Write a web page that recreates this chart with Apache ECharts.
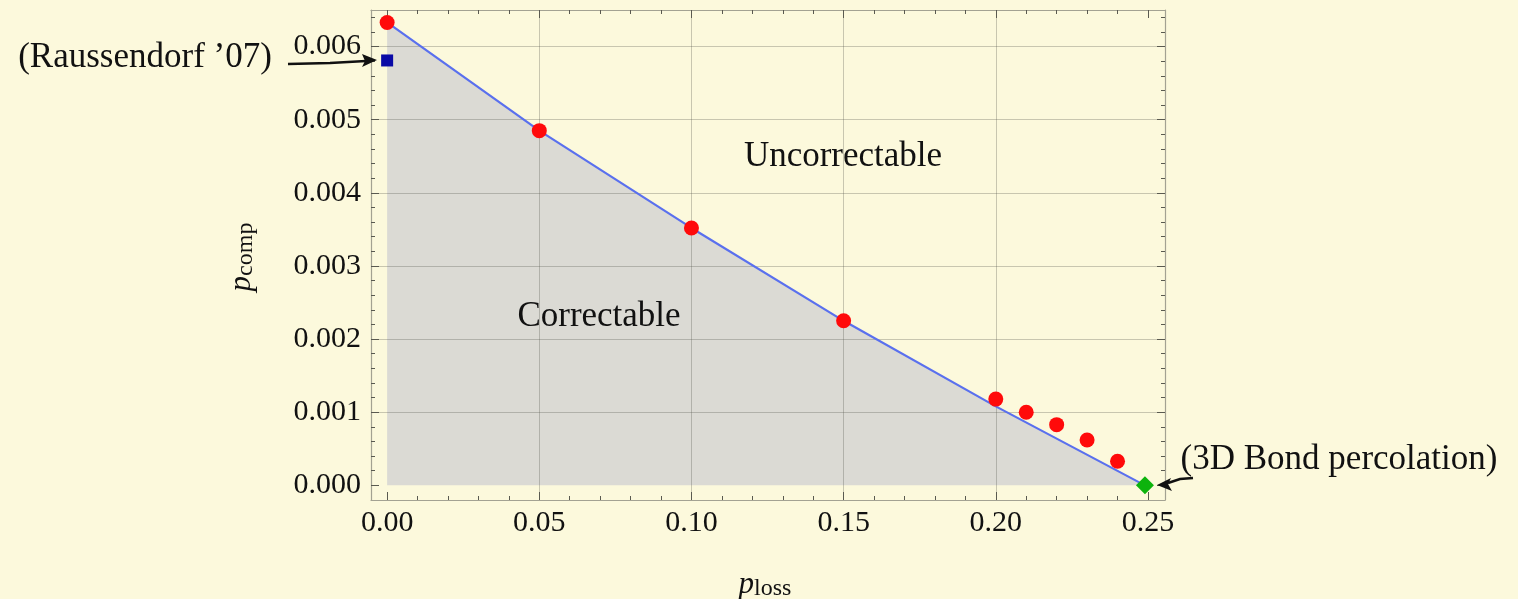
<!DOCTYPE html>
<html>
<head>
<meta charset="utf-8">
<script src="https://cdn.jsdelivr.net/npm/echarts@6/dist/echarts.min.js"></script>
<style>
html,body{margin:0;padding:0;background:#fcf9dc;}
#c{width:1518px;height:599px;}
</style>
</head>
<body>
<div id="c"></div>
<script>
// ---- data ----
const simPoints = [[0,0.00633],[0.05,0.00485],[0.10,0.00352],[0.15,0.00225],[0.20,0.00118],[0.21,0.00100],[0.22,0.00083],[0.23,0.00062],[0.24,0.00033]];
const boundary = [[0,0.00633],[0.05,0.00485],[0.10,0.00352],[0.15,0.00225],[0.20,0.00108],[0.249,0]];
const raussendorf = [[0,0.00581]];
const bondPerc = [[0.249,0]];
const xMajor = [0,0.05,0.10,0.15,0.20,0.25];
const xMinor = [0.01,0.02,0.03,0.04,0.06,0.07,0.08,0.09,0.11,0.12,0.13,0.14,0.16,0.17,0.18,0.19,0.21,0.22,0.23,0.24];
const yMajor = [0,0.001,0.002,0.003,0.004,0.005,0.006];
const yMinor = [0.0002,0.0004,0.0006,0.0008,0.0012,0.0014,0.0016,0.0018,0.0022,0.0024,0.0026,0.0028,0.0032,0.0034,0.0036,0.0038,0.0042,0.0044,0.0046,0.0048,0.0052,0.0054,0.0056,0.0058,0.0062,0.0064];
const xGrid = [0.05,0.10,0.15,0.20];
const yGrid = [0.001,0.002,0.003,0.004,0.005,0.006];
const xRange = [-0.0053, 0.2556];
const yRange = [-0.0002, 0.0065];

const FONT = 'Liberation Serif';
const frameColor = '#a3a292';
const tickColor = '#5a5a50';

function xAx(pos, vals, len, withLabel, withLine) {
  return {
    type:'value', position:pos, min:xRange[0], max:xRange[1],
    axisLine:{show:withLine, onZero:false, lineStyle:{color:frameColor, width:1.2}},
    axisTick:{show:true, inside:true, length:len, customValues:vals, lineStyle:{color:tickColor, width:1}},
    axisLabel:{show:withLabel, customValues:vals, margin:8, fontFamily:FONT, fontSize:30, color:'#111',
      formatter:v=>v.toFixed(2)},
    splitLine:{show:false}
  };
}
function yAx(pos, vals, len, withLabel, withLine) {
  return {
    type:'value', position:pos, min:yRange[0], max:yRange[1],
    axisLine:{show:withLine, onZero:false, lineStyle:{color:frameColor, width:1.2}},
    axisTick:{show:true, inside:true, length:len, customValues:vals, lineStyle:{color:tickColor, width:1}},
    axisLabel:{show:withLabel, customValues:vals, margin:10, fontFamily:FONT, fontSize:30, color:'#111',
      formatter:v=>v.toFixed(3)},
    splitLine:{show:false}
  };
}

const gridLineStyle = {color:'rgba(90,90,80,0.32)', width:1, type:'solid'};
const gridLines = xGrid.map(v=>[{coord:[v, yRange[0]]},{coord:[v, yRange[1]]}])
  .concat(yGrid.map(v=>[{coord:[xRange[0], v]},{coord:[xRange[1], v]}]));

const chart = echarts.init(document.getElementById('c'));
chart.setOption({
  backgroundColor:'#fcf9dc',
  animation:false,
  grid:{left:371, right:353, top:10, bottom:99, containLabel:false},
  xAxis:[
    xAx('bottom', xMajor, 8, true, true),
    xAx('bottom', xMinor, 4, false, false),
    xAx('top', xMajor, 8, false, true),
    xAx('top', xMinor, 4, false, false)
  ],
  yAxis:[
    yAx('left', yMajor, 8, true, true),
    yAx('left', yMinor, 4, false, false),
    yAx('right', yMajor, 8, false, true),
    yAx('right', yMinor, 4, false, false)
  ],
  series:[
    {
      type:'line', data:boundary, showSymbol:false, z:1, silent:true,
      lineStyle:{width:0}, areaStyle:{color:'#dbdad4', opacity:1},
      markLine:{
        silent:true, symbol:['none','none'], z:2, label:{show:false},
        lineStyle:gridLineStyle, emphasis:{disabled:true},
        data: gridLines
      }
    },
    {
      type:'line', data:boundary, showSymbol:false, z:4,
      lineStyle:{color:'#5a70ee', width:2.2}
    },
    {
      type:'scatter', data:simPoints, symbol:'circle', symbolSize:15, z:6,
      itemStyle:{color:'#ff0a0a', opacity:1}
    },
    {
      type:'scatter', data:raussendorf, symbol:'rect', symbolSize:12, z:6,
      itemStyle:{color:'#0a0aa6', opacity:1}
    },
    {
      type:'scatter', data:bondPerc, symbol:'diamond', symbolSize:[18,18], z:6,
      itemStyle:{color:'#0db30d', opacity:1}
    }
  ],
  graphic:[
    {type:'text', x:843, y:157, z:10, style:{text:'Uncorrectable', font:'35px "Liberation Serif"', fill:'#111', align:'center', verticalAlign:'middle'}},
    {type:'text', x:599, y:317, z:10, style:{text:'Correctable', font:'35px "Liberation Serif"', fill:'#111', align:'center', verticalAlign:'middle'}},
    {type:'text', x:145, y:58, z:10, style:{text:"(Raussendorf \u201907)", font:'35px "Liberation Serif"', fill:'#111', align:'center', verticalAlign:'middle'}},
    {type:'text', x:1339, y:460, z:10, style:{text:'(3D Bond percolation)', font:'35px "Liberation Serif"', fill:'#111', align:'center', verticalAlign:'middle'}},
    {type:'polyline', z:10, shape:{points:[[288,64],[330,63],[366,61]]}, style:{stroke:'#111', lineWidth:2.5, fill:null}},
    {type:'polygon', z:10, shape:{points:[[377,60],[362,54],[365,61],[362,67]]}, style:{fill:'#111'}},
    {type:'polyline', z:10, shape:{points:[[1193,478],[1180,479],[1168,483]]}, style:{stroke:'#111', lineWidth:2.5, fill:null}},
    {type:'polygon', z:10, shape:{points:[[1157,485],[1171,478],[1168,484],[1172,491]]}, style:{fill:'#111'}},
    {type:'text', x:765, y:585, z:10, style:{
      text:'{p|p}{s|loss}', align:'center', verticalAlign:'middle',
      rich:{p:{fontFamily:FONT, fontStyle:'italic', fontSize:31, fill:'#111'},
            s:{fontFamily:FONT, fontSize:24, fill:'#111', padding:[7,0,0,0]}}
    }},
    {type:'text', x:242, y:257, z:10, rotation:Math.PI/2, style:{
      text:'{p|p}{s|comp}', align:'center', verticalAlign:'middle',
      rich:{p:{fontFamily:FONT, fontStyle:'italic', fontSize:31, fill:'#111'},
            s:{fontFamily:FONT, fontSize:24, fill:'#111', padding:[7,0,0,0]}}
    }}
  ]
});
</script>
</body>
</html>
